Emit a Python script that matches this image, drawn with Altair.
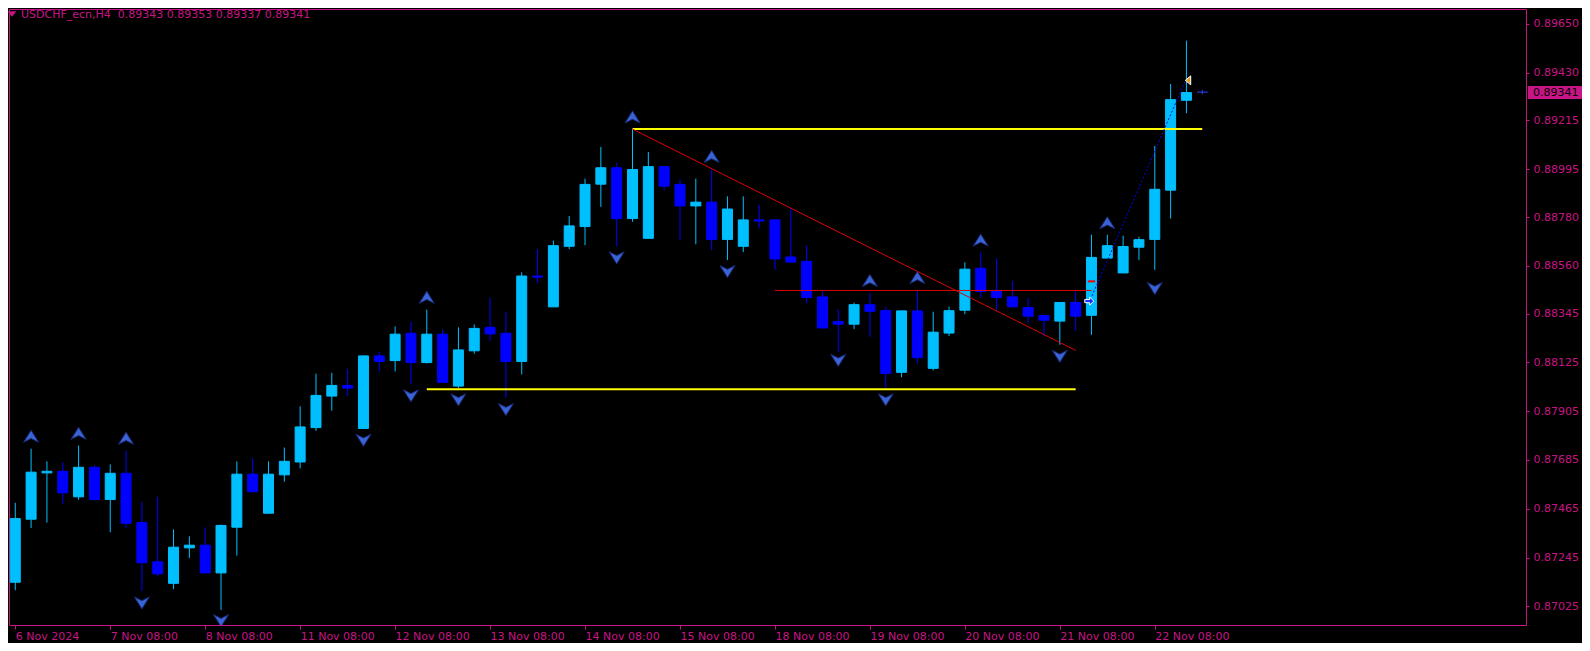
import altair as alt
import pandas as pd

# ---------------- data ----------------
bar_index = list(range(75))
open_ = [0.87134, 0.87418, 0.87627, 0.87634, 0.87519, 0.87652, 0.87507, 0.87625, 0.87403, 0.87226,
         0.87129, 0.87289, 0.87301, 0.87176, 0.87382, 0.87621, 0.87445, 0.87618, 0.87676, 0.87831,
         0.87973, 0.88021, 0.87827, 0.88154, 0.88133, 0.88256, 0.88124, 0.88252, 0.88018, 0.88177,
         0.88283, 0.88256, 0.88129, 0.88514, 0.88375, 0.88648, 0.88737, 0.88928, 0.89002, 0.88773,
         0.88684, 0.89007, 0.88927, 0.88830, 0.88847, 0.88679, 0.88648, 0.88767, 0.88767, 0.88600,
         0.88580, 0.88420, 0.88309, 0.88297, 0.88385, 0.88358, 0.88080, 0.88357, 0.88098, 0.88257,
         0.88360, 0.88549, 0.88449, 0.88420, 0.88372, 0.88336, 0.88311, 0.88395, 0.88337, 0.88595,
         0.88528, 0.88644, 0.88679, 0.88901, 0.89306]
high_ = [0.87492, 0.87736, 0.87679, 0.87674, 0.87750, 0.87661, 0.87665, 0.87727, 0.87496, 0.87519,
         0.87372, 0.87341, 0.87381, 0.87394, 0.87679, 0.87692, 0.87679, 0.87741, 0.87927, 0.88074,
         0.88078, 0.88096, 0.88156, 0.88172, 0.88287, 0.88309, 0.88363, 0.88274, 0.88283, 0.88296,
         0.88416, 0.88354, 0.88531, 0.88634, 0.88674, 0.88785, 0.88953, 0.89096, 0.89025, 0.89176,
         0.89073, 0.89007, 0.88949, 0.88953, 0.88994, 0.88873, 0.88873, 0.88834, 0.88767, 0.88816,
         0.88651, 0.88447, 0.88363, 0.88394, 0.88438, 0.88373, 0.88357, 0.88449, 0.88353, 0.88376,
         0.88576, 0.88620, 0.88594, 0.88491, 0.88416, 0.88336, 0.88395, 0.88444, 0.88700, 0.88700,
         0.88696, 0.88691, 0.89100, 0.89380, 0.89575]
low_ = [0.87098, 0.87378, 0.87403, 0.87488, 0.87505, 0.87501, 0.87359, 0.87378, 0.87094, 0.87160,
        0.87103, 0.87243, 0.87176, 0.87009, 0.87254, 0.87538, 0.87445, 0.87587, 0.87647, 0.87816,
        0.87907, 0.87973, 0.87825, 0.88084, 0.88084, 0.88027, 0.88120, 0.88035, 0.88009, 0.88164,
        0.88222, 0.87964, 0.88071, 0.88483, 0.88375, 0.88635, 0.88653, 0.88826, 0.88648, 0.88759,
        0.88684, 0.88901, 0.88675, 0.88657, 0.88631, 0.88586, 0.88622, 0.88728, 0.88542, 0.88577,
        0.88391, 0.88280, 0.88172, 0.88275, 0.88240, 0.88009, 0.88058, 0.88120, 0.88089, 0.88244,
        0.88342, 0.88417, 0.88355, 0.88375, 0.88302, 0.88244, 0.88204, 0.88266, 0.88249, 0.88595,
        0.88528, 0.88586, 0.88542, 0.88773, 0.89248]
close_ = [0.87421, 0.87630, 0.87634, 0.87537, 0.87652, 0.87507, 0.87625, 0.87400, 0.87222, 0.87172,
          0.87292, 0.87301, 0.87176, 0.87390, 0.87621, 0.87542, 0.87621, 0.87679, 0.87834, 0.87976,
          0.88021, 0.88009, 0.88154, 0.88129, 0.88252, 0.88124, 0.88252, 0.88035, 0.88181, 0.88278,
          0.88253, 0.88129, 0.88514, 0.88509, 0.88651, 0.88740, 0.88927, 0.89002, 0.88773, 0.88994,
          0.89007, 0.88919, 0.88830, 0.88847, 0.88679, 0.88816, 0.88767, 0.88762, 0.88591, 0.88577,
          0.88417, 0.88280, 0.88297, 0.88385, 0.88355, 0.88075, 0.88357, 0.88146, 0.88261, 0.88358,
          0.88545, 0.88444, 0.88417, 0.88375, 0.88333, 0.88315, 0.88395, 0.88333, 0.88598, 0.88651,
          0.88647, 0.88678, 0.88905, 0.89309, 0.89341]

# fractal arrows
up_idx = [1, 4, 7, 26, 39, 44, 54, 57, 61, 69]
up_price = [0.87792, 0.87805, 0.87783, 0.88418, 0.89231, 0.89053, 0.88494, 0.88507, 0.88676, 0.88754]
dn_idx = [8, 13, 22, 25, 28, 31, 38, 45, 52, 55, 66, 72]
dn_price = [0.87041, 0.86961, 0.87774, 0.87974, 0.87956, 0.87912, 0.88596, 0.88534, 0.88134,
            0.87956, 0.88152, 0.88458]

# drawn objects (start index, end index, start price, end price)
yellow_x1 = [39, 26]
yellow_x2 = [75, 67]
yellow_p1 = [0.89177, 0.88004]
yellow_p2 = [0.89177, 0.88004]
red_x1 = [39, 48]
red_x2 = [67, 68]
red_p1 = [0.89176, 0.88449]
red_p2 = [0.88179, 0.88449]
blue_x = [68.03, 73.9]
blue_p = [0.88424, 0.89389]
red_dash_x = [67.77, 68.23]
red_dash_p = 0.88490
entry_arrow = (67.86, 0.88401)
exit_arrow = (74.1, 0.89396)
bid_cross_x = [74.67, 75.35]
bid_cross_p = 0.89343

x_tick_idx = [0, 6, 12, 18, 24, 30, 36, 42, 48, 54, 60, 66, 72]
x_tick_labels = ["6 Nov 2024", "7 Nov 08:00", "8 Nov 08:00", "11 Nov 08:00", "12 Nov 08:00",
                 "13 Nov 08:00", "14 Nov 08:00", "15 Nov 08:00", "18 Nov 08:00", "19 Nov 08:00",
                 "20 Nov 08:00", "21 Nov 08:00", "22 Nov 08:00"]
y_ticks = [0.89650, 0.89430, 0.89215, 0.88995, 0.88780, 0.88560, 0.88345, 0.88125, 0.87905,
           0.87685, 0.87465, 0.87245, 0.87025]
last_price = 0.89341
title_text = "USDCHF_ecn,H4\u00a0 0.89343 0.89353 0.89337 0.89341"

# ---------------- styling ----------------
BULL = "#00bfff"
BEAR = "#0000ff"
MAG = "#c71585"
FONT = "DejaVu Sans"
W, H = 1517, 616

x_scale = alt.Scale(domain=[-0.081, 95.14], nice=False, zero=False)
y_scale = alt.Scale(domain=[0.869413, 0.897175], nice=False, zero=False)

candles = pd.DataFrame({"i": bar_index, "open": open_, "high": high_, "low": low_, "close": close_})
candles["top"] = candles[["open", "close"]].max(axis=1)
candles["bot"] = candles[["open", "close"]].min(axis=1)
candles["col"] = [BULL if c >= o else BEAR for o, c in zip(open_, close_)]

label_js = "[" + ",".join("'" + s + "'" for s in x_tick_labels) + "]"

x_axis = alt.Axis(values=x_tick_idx, labelExpr=label_js + "[round(datum.value/6)]",
                  orient="bottom", domain=False, grid=False, ticks=True, tickSize=4,
                  tickColor=MAG, labelColor=MAG, labelFont=FONT, labelFontSize=11,
                  labelAlign="left", labelPadding=1, labelOverlap=False, labelFlush=False,
                  labelBound=False, title=None)
y_axis = alt.Axis(values=y_ticks, format=".5f", orient="right", domain=False, grid=False,
                  ticks=True, tickSize=3, tickColor=MAG, labelColor=MAG, labelFont=FONT,
                  labelFontSize=11, labelPadding=4, labelOverlap=False, labelFlush=False,
                  labelBound=False, title=None)

base = alt.Chart(candles)

wicks = base.mark_rule(strokeWidth=1, clip=True).encode(
    x=alt.X("i:Q", scale=x_scale, axis=x_axis),
    y=alt.Y("low:Q", scale=y_scale, axis=y_axis),
    y2="high:Q",
    color=alt.Color("col:N", scale=None),
)
bodies = base.mark_bar(size=10, strokeWidth=1, clip=True).encode(
    x=alt.X("i:Q", scale=x_scale),
    y=alt.Y("bot:Q", scale=y_scale),
    y2="top:Q",
    color=alt.Color("col:N", scale=None),
    stroke=alt.Stroke("col:N", scale=None),
)

UP_PATH = "M0,-0.8 L1,0.8 L0,0.3 L-1,0.8 Z"
DN_PATH = "M0,0.8 L1,-0.8 L0,-0.3 L-1,-0.8 Z"
ups = alt.Chart(pd.DataFrame({"i": up_idx, "p": up_price})).mark_point(
    shape=UP_PATH, filled=True, size=225, fill="#3a63d6", stroke="#1b2a78",
    strokeWidth=1, opacity=1, clip=True
).encode(x=alt.X("i:Q", scale=x_scale), y=alt.Y("p:Q", scale=y_scale))
dns = alt.Chart(pd.DataFrame({"i": dn_idx, "p": dn_price})).mark_point(
    shape=DN_PATH, filled=True, size=225, fill="#3a63d6", stroke="#1b2a78",
    strokeWidth=1, opacity=1, clip=True
).encode(x=alt.X("i:Q", scale=x_scale), y=alt.Y("p:Q", scale=y_scale))

yellow = alt.Chart(pd.DataFrame({"x1": yellow_x1, "x2": yellow_x2, "p1": yellow_p1, "p2": yellow_p2})
                   ).mark_rule(color="#ffff00", strokeWidth=2, clip=True).encode(
    x=alt.X("x1:Q", scale=x_scale), x2="x2:Q",
    y=alt.Y("p1:Q", scale=y_scale), y2="p2:Q")
red = alt.Chart(pd.DataFrame({"x1": red_x1, "x2": red_x2, "p1": red_p1, "p2": red_p2})
                ).mark_rule(color="#e00000", strokeWidth=1, clip=True).encode(
    x=alt.X("x1:Q", scale=x_scale), x2="x2:Q",
    y=alt.Y("p1:Q", scale=y_scale), y2="p2:Q")
blue = alt.Chart(pd.DataFrame({"x1": [blue_x[0]], "x2": [blue_x[1]], "p1": [blue_p[0]], "p2": [blue_p[1]]})
                 ).mark_rule(color="#0000ff", strokeWidth=1, strokeDash=[2, 2], clip=True).encode(
    x=alt.X("x1:Q", scale=x_scale), x2="x2:Q",
    y=alt.Y("p1:Q", scale=y_scale), y2="p2:Q")
red_dash = alt.Chart(pd.DataFrame({"x1": [red_dash_x[0]], "x2": [red_dash_x[1]], "p": [red_dash_p]})
                     ).mark_rule(color="#ff0000", strokeWidth=2, clip=True).encode(
    x=alt.X("x1:Q", scale=x_scale), x2="x2:Q", y=alt.Y("p:Q", scale=y_scale))
bid_h = alt.Chart(pd.DataFrame({"x1": [bid_cross_x[0]], "x2": [bid_cross_x[1]], "p": [bid_cross_p]})
                  ).mark_rule(color="#2b44ff", strokeWidth=1, clip=True).encode(
    x=alt.X("x1:Q", scale=x_scale), x2="x2:Q", y=alt.Y("p:Q", scale=y_scale))
bid_v = alt.Chart(pd.DataFrame({"x": [75], "p1": [bid_cross_p - 0.0001], "p2": [bid_cross_p + 0.0001]})
                  ).mark_rule(color="#2b44ff", strokeWidth=1, clip=True).encode(
    x=alt.X("x:Q", scale=x_scale), y=alt.Y("p1:Q", scale=y_scale), y2="p2:Q")

RIGHT_PATH = "M-1,-0.35 L0.1,-0.35 L0.1,-0.9 L1,0 L0.1,0.9 L0.1,0.35 L-1,0.35 Z"
LEFT_PATH = "M-0.6,0 L0.6,-1 L0.6,1 Z"
entry = alt.Chart(pd.DataFrame({"x": [entry_arrow[0]], "p": [entry_arrow[1]]})).mark_point(
    shape=RIGHT_PATH, filled=True, size=81, fill="#1030ff", stroke="#ffffff", strokeWidth=1,
    opacity=1).encode(x=alt.X("x:Q", scale=x_scale), y=alt.Y("p:Q", scale=y_scale))
exitp = alt.Chart(pd.DataFrame({"x": [exit_arrow[0]], "p": [exit_arrow[1]]})).mark_point(
    shape=LEFT_PATH, filled=True, size=81, fill="#e0a020", stroke="#ffffff", strokeWidth=1,
    opacity=1).encode(x=alt.X("x:Q", scale=x_scale), y=alt.Y("p:Q", scale=y_scale))

# current price box on the right axis
price_df = pd.DataFrame({"p": [last_price], "t": [f"{last_price:.5f}"]})
price_box = alt.Chart(price_df).mark_rule(color=MAG, strokeWidth=13, strokeCap="butt").encode(
    x=alt.value(W + 2), x2=alt.value(W + 56), y=alt.Y("p:Q", scale=y_scale))
price_txt = alt.Chart(price_df).mark_text(align="left", baseline="middle", font=FONT,
                                          fontSize=11, color="#000000").encode(
    x=alt.value(W + 7), y=alt.Y("p:Q", scale=y_scale), text="t:N")

# title in the top-left corner
title_df = pd.DataFrame({"t": [title_text]})
title_mark = alt.Chart(title_df).mark_text(align="left", baseline="middle", font=FONT,
                                           fontSize=11, color=MAG).encode(
    x=alt.value(12), y=alt.value(6), text="t:N")
title_tri = alt.Chart(title_df).mark_point(shape="M-1,-0.6 L1,-0.6 L0,0.6 Z", filled=True,
                                           size=64, fill=MAG, stroke=MAG, strokeWidth=0.5,
                                           opacity=1).encode(
    x=alt.value(3), y=alt.value(5))

chart = alt.layer(
    wicks, bodies, yellow, red, blue, red_dash, ups, dns, entry, exitp, bid_h, bid_v,
    price_box, price_txt, title_tri, title_mark
).properties(
    width=W, height=H,
    background="#000000",
    padding={"left": 1, "top": 1, "right": 56, "bottom": 18},
    autosize=alt.AutoSizeParams(type="none"),
).configure_view(
    stroke=MAG, strokeWidth=1, fill="#000000"
)

chart.save("out.html", embed_options={"renderer": "svg", "actions": False})
